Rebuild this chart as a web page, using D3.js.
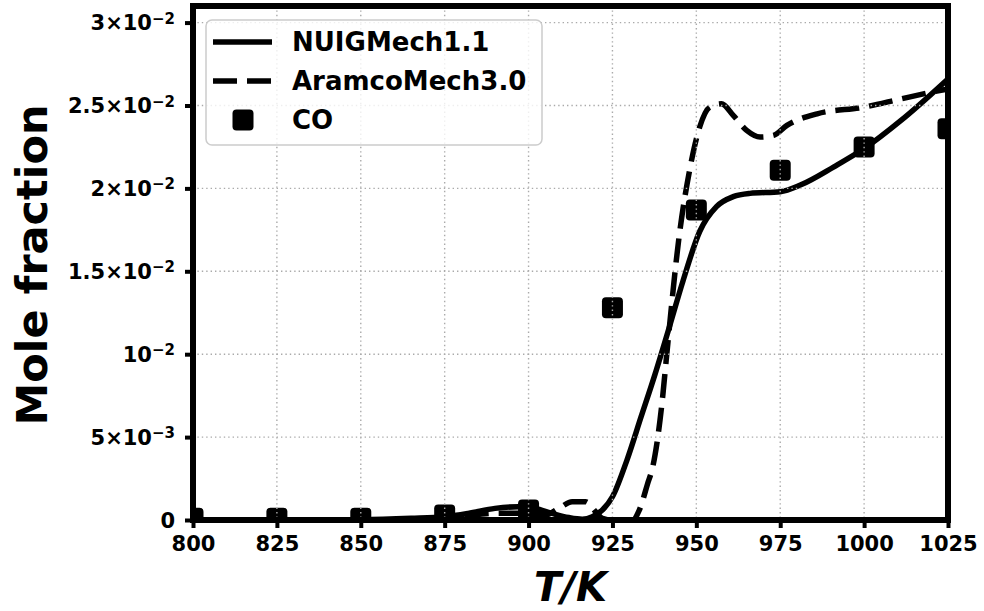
<!DOCTYPE html>
<html>
<head>
<meta charset="utf-8">
<script src="https://cdn.jsdelivr.net/npm/d3@7"></script>
<style>
  body { margin: 0; background: white; }
  svg { display: block; font-family: "DejaVu Sans", sans-serif; font-weight: bold; }
</style>
</head>
<body>
<div id="chart"></div>
<script>
/* CONSTANTS AND GLOBALS */
const width = 984;
const height = 611;
const plotLeft = 193, plotRight = 948, plotTop = 6, plotBottom = 520;

/* DATA */
// NUIGMech1.1 model (solid)
const nuigT   = [800, 850, 865, 875, 882, 890, 897, 902, 907, 912, 916, 919, 922, 925, 929.3, 933.5, 937.7, 941.9, 946, 951, 956, 961, 966, 975, 981, 991, 1000, 1011, 1025];
const nuigCO  = [0, 0.00002, 0.0001, 0.0002, 0.0004, 0.0007, 0.0008, 0.0007, 0.0004, 0.00015, 0.00005, 0.0002, 0.0006, 0.0014, 0.0036, 0.0062, 0.0088, 0.0116, 0.0144, 0.0174, 0.0189, 0.0195, 0.0197, 0.0198, 0.0202, 0.0213, 0.0224, 0.0241, 0.0266];
// AramcoMech3.0 model (dashed)
const aramcoT  = [800, 870, 880, 890, 900, 905, 909, 913, 917, 920, 922, 925, 931, 933, 935.5, 937, 940, 941, 945, 948, 951, 954, 957.5, 961, 965, 969, 973, 977, 986, 1000, 1011, 1020, 1025];
const aramcoCO = [0, 0, 0.0002, 0.0004, 0.0004, 0.0003, 0.0007, 0.0011, 0.0011, 0.0005, 0.0001, 0, 0, 0.0006, 0.0022, 0.0032, 0.0075, 0.0096, 0.0173, 0.0211, 0.0237, 0.0249, 0.0251, 0.0244, 0.0235, 0.0231, 0.0232, 0.0238, 0.0245, 0.0249, 0.0254, 0.0258, 0.026];
// experiment (squares)
const expT  = [800, 825, 850, 875, 900, 925, 950, 975, 1000, 1025];
const expCO = [0.0001, 0.0001, 0.0001, 0.0003, 0.0006, 0.0128, 0.0187, 0.0211, 0.0225, 0.0236];

const xTicks = [800, 825, 850, 875, 900, 925, 950, 975, 1000, 1025];
const yTicks = [0, 0.005, 0.01, 0.015, 0.02, 0.025, 0.03];
const yTickMant = ["0", "5×", "", "1.5×", "2×", "2.5×", "3×"];
const yTickExp  = ["", "−3", "−2", "−2", "−2", "−2", "−2"];
const seriesNames = ["NUIGMech1.1", "AramcoMech3.0", "CO"];

/* SCALES */
const xScale = d3.scaleLinear().domain([800, 1025]).range([plotLeft, plotRight]);
const yScale = d3.scaleLinear().domain([0, 0.031]).range([plotBottom, plotTop]);

const svg = d3.select("#chart").append("svg")
  .attr("width", width)
  .attr("height", height)
  .style("background-color", "white");

svg.append("clipPath").attr("id", "plot-clip")
  .append("rect")
  .attr("x", plotLeft).attr("y", plotTop)
  .attr("width", plotRight - plotLeft).attr("height", plotBottom - plotTop);

const plot = svg.append("g").attr("clip-path", "url(#plot-clip)");

const line = d3.line()
  .x(d => xScale(d[0]))
  .y(d => yScale(d[1]))
  .curve(d3.curveMonotoneX);

plot.append("path")
  .datum(d3.zip(nuigT, nuigCO))
  .attr("d", line)
  .attr("fill", "none")
  .attr("stroke", "black")
  .attr("stroke-width", 5.5);

plot.append("path")
  .datum(d3.zip(aramcoT, aramcoCO))
  .attr("d", line)
  .attr("fill", "none")
  .attr("stroke", "black")
  .attr("stroke-width", 5.5)
  .attr("stroke-dasharray", "24,10");

const ms = 21;
plot.append("g")
  .selectAll("rect")
  .data(d3.zip(expT, expCO))
  .join("rect")
  .attr("x", d => xScale(d[0]) - ms / 2)
  .attr("y", d => yScale(d[1]) - ms / 2)
  .attr("width", ms)
  .attr("height", ms)
  .attr("rx", 4)
  .attr("fill", "black");

// grid drawn above the data, like the original
const grid = svg.append("g")
  .attr("stroke", "#aaa")
  .attr("stroke-width", 1.4)
  .attr("stroke-dasharray", "1.4,3");
grid.selectAll(".gx")
  .data(xTicks.slice(1, -1))
  .join("line")
  .attr("x1", d => xScale(d)).attr("x2", d => xScale(d))
  .attr("y1", plotTop).attr("y2", plotBottom);
grid.selectAll(".gy")
  .data(yTicks.slice(1))
  .join("line")
  .attr("y1", d => yScale(d)).attr("y2", d => yScale(d))
  .attr("x1", plotLeft).attr("x2", plotRight);

/* AXES */
const xAxis = d3.axisBottom(xScale).tickValues(xTicks).tickSize(8).tickPadding(8).tickFormat(d3.format("d"));
const gx = svg.append("g")
  .attr("transform", `translate(0,${plotBottom})`)
  .call(xAxis);
gx.select(".domain").remove();
gx.selectAll(".tick line").attr("stroke-width", 4);
gx.selectAll(".tick text")
  .attr("font-size", 21)
  .attr("font-weight", "bold")
  .attr("font-family", "DejaVu Sans")
  .attr("fill", "black");

const yAxis = d3.axisLeft(yScale).tickValues(yTicks).tickSize(8).tickPadding(10).tickFormat("");
const gy = svg.append("g")
  .attr("transform", `translate(${plotLeft},0)`)
  .call(yAxis);
gy.select(".domain").remove();
gy.selectAll(".tick line").attr("stroke-width", 4);
gy.selectAll(".tick text").remove();
gy.selectAll(".tick").each(function(d, i) {
  const t = d3.select(this).append("text")
    .attr("x", -18)
    .attr("dy", "0.35em")
    .attr("text-anchor", "end")
    .attr("font-size", 21)
    .attr("font-weight", "bold")
    .attr("font-family", "DejaVu Sans")
    .attr("fill", "black");
  if (yTickExp[i] === "") {
    t.text(yTickMant[i]);
  } else {
    t.append("tspan").text(yTickMant[i] + "10");
    t.append("tspan")
      .attr("dy", "-0.45em")
      .attr("font-size", 15)
      .text(yTickExp[i]);
  }
});

// frame
svg.append("rect")
  .attr("x", plotLeft).attr("y", plotTop)
  .attr("width", plotRight - plotLeft).attr("height", plotBottom - plotTop)
  .attr("fill", "none")
  .attr("stroke", "black")
  .attr("stroke-width", 6);

/* LABELS */
svg.append("text")
  .attr("transform", `translate(47,${(103 + 427) / 2}) rotate(-90)`)
  .attr("text-anchor", "middle")
  .attr("font-size", 43)
  .attr("font-weight", "bold")
  .text("Mole fraction");

svg.append("text")
  .attr("x", (plotLeft + plotRight) / 2)
  .attr("y", 601)
  .attr("text-anchor", "middle")
  .attr("font-size", 40)
  .attr("font-weight", "bold")
  .attr("font-style", "italic")
  .text("T/K");

/* LEGEND */
const legend = svg.append("g");
legend.append("rect")
  .attr("x", 206).attr("y", 20)
  .attr("width", 336).attr("height", 125)
  .attr("rx", 6)
  .attr("fill", "white")
  .attr("fill-opacity", 0.8)
  .attr("stroke", "#ccc")
  .attr("stroke-width", 1.5);

const rowY = [42, 81, 120];
legend.append("line")
  .attr("x1", 213).attr("x2", 272).attr("y1", rowY[0]).attr("y2", rowY[0])
  .attr("stroke", "black").attr("stroke-width", 5.5);
legend.append("line")
  .attr("x1", 213).attr("x2", 272).attr("y1", rowY[1]).attr("y2", rowY[1])
  .attr("stroke", "black").attr("stroke-width", 5.5)
  .attr("stroke-dasharray", "24,10");
legend.append("rect")
  .attr("x", 243 - ms / 2).attr("y", rowY[2] - ms / 2)
  .attr("width", ms).attr("height", ms)
  .attr("rx", 4)
  .attr("fill", "black");

legend.selectAll(".lbl")
  .data(seriesNames)
  .join("text")
  .attr("x", 292)
  .attr("y", (d, i) => rowY[i])
  .attr("dy", "0.36em")
  .attr("font-size", 26)
  .attr("font-weight", "bold")
  .text(d => d);
</script>
</body>
</html>
